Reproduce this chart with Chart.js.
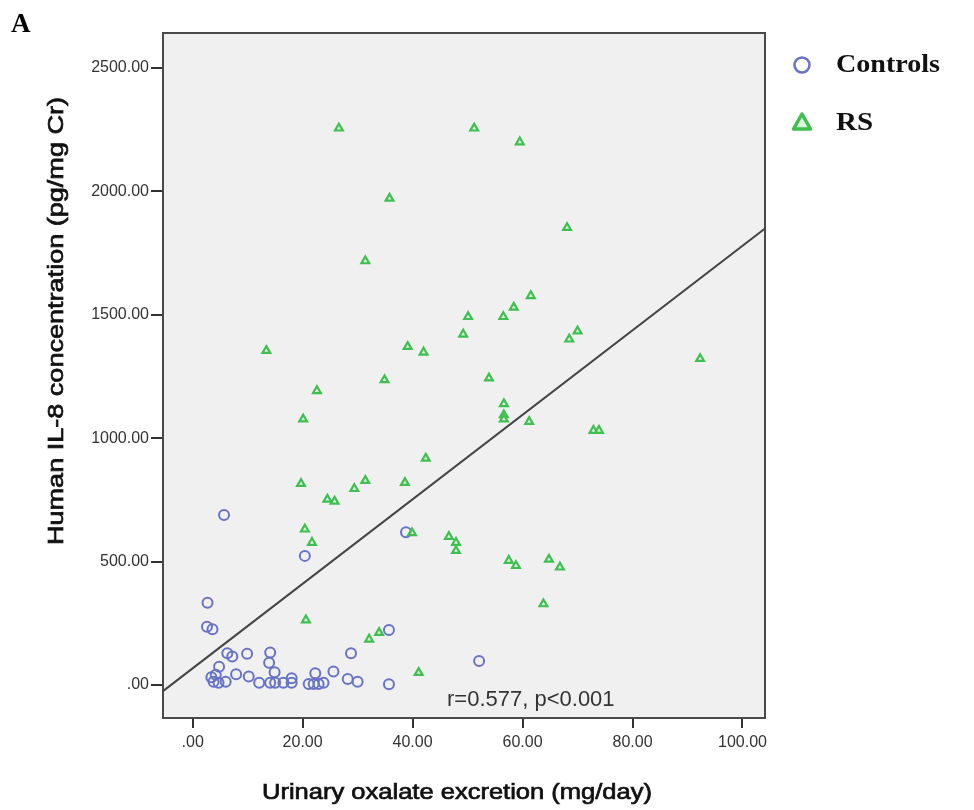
<!DOCTYPE html>
<html>
<head>
<meta charset="utf-8">
<script src="https://cdn.jsdelivr.net/npm/chart.js@4.4.1/dist/chart.umd.min.js"></script>
<style>
  html, body { margin: 0; padding: 0; background: #fff; }
  #wrap { width: 974px; height: 810px; }
</style>
</head>
<body>
<div id="wrap"><canvas id="chart" width="974" height="810"></canvas></div>
<script>
// urinary oxalate (mg/day) vs IL-8 (pg/mg Cr)
var controlsX = [2.7, 2.6, 3.6, 5.7, 20.4, 38.8, 52.1, 35.7, 35.7, 6.3, 7.2, 9.9, 14.1, 13.9, 14.9,
  4.8, 4.2, 3.4, 3.8, 4.7, 6.0, 7.9, 10.2, 12.1, 14.1, 15.0, 16.5, 18.0, 18.0, 21.1, 22.0, 22.9,
  23.8, 22.3, 25.6, 28.8, 28.2, 30.0];
var controlsY = [333, 236, 226, 689, 523, 619, 97, 223, 3, 128, 115, 126, 131, 90, 51,
  74, 41, 31, 13, 9, 13, 43, 34, 9, 9, 9, 9, 27, 9, 4, 4, 4,
  9, 47, 54, 128, 24, 13];

var rsX = [26.6, 51.2, 59.5, 35.8, 68.1, 31.4, 61.5, 58.4, 50.1, 56.5, 70.0, 68.5, 49.2, 39.1, 42.0,
  13.4, 92.3, 53.9, 34.9, 22.6, 56.6, 56.6, 56.6, 61.2, 20.1, 72.9, 73.9, 42.4, 19.7, 31.4,
  29.4, 38.6, 24.5, 25.8, 20.4, 21.7, 39.9, 46.6, 47.9, 47.9, 57.5, 58.8, 64.8, 66.8, 63.8,
  41.1, 20.6, 32.1, 33.9];
var rsY = [2256, 2256, 2200, 1972, 1853, 1718, 1577, 1530, 1492, 1492, 1434, 1401, 1421, 1371, 1348,
  1355, 1322, 1243, 1236, 1192, 1139, 1094, 1077, 1067, 1077, 1031, 1031, 918, 816, 828,
  795, 820, 752, 744, 631, 577, 616, 601, 577, 544, 504, 483, 509, 477, 328,
  50, 263, 185, 212];

// fit line: y = fitIntercept + fitSlope * x
var fitIntercept = 67.5;
var fitSlope = 17.12;

var xRange = [-5.4, 104.1];
var yRange = [-134, 2642];
var xTicks = [0, 20, 40, 60, 80, 100];
var yTicks = [0, 500, 1000, 1500, 2000, 2500];

var seriesNames = ['Controls', 'RS'];
var xTitle = 'Urinary oxalate excretion (mg/day)';
var yTitle = 'Human IL-8 concentration (pg/mg Cr)';
var statText = 'r=0.577, p<0.001';
var panelLetter = 'A';

var blue = '#6673c6';
var green = '#3fbf4f';

function toPoints(xs, ys) {
  return xs.map(function (x, i) { return {x: x, y: ys[i]}; });
}

function fmt(v) {
  var s = v.toFixed(2);
  return v === 0 ? s.slice(1) : s;
}

// draws text squeezed/stretched to a given width, a bit heavier than regular
function fitText(ctx, text, cx, cy, width, rot) {
  ctx.save();
  ctx.translate(cx, cy);
  if (rot) ctx.rotate(rot);
  var w = ctx.measureText(text).width;
  ctx.scale(width / w, 1);
  ctx.textAlign = 'center';
  ctx.textBaseline = 'middle';
  ctx.fillText(text, 0, 0);
  ctx.lineWidth = 0.7;
  ctx.strokeStyle = ctx.fillStyle;
  ctx.strokeText(text, 0, 0);
  ctx.restore();
}

var framePlugin = {
  id: 'frame',
  beforeDraw: function (chart) {
    var a = chart.chartArea, ctx = chart.ctx;
    ctx.save();
    ctx.fillStyle = '#f0f0f0';
    ctx.fillRect(a.left, a.top, a.right - a.left, a.bottom - a.top);
    ctx.restore();
  },
  afterDraw: function (chart) {
    var a = chart.chartArea, ctx = chart.ctx;
    ctx.save();
    ctx.strokeStyle = '#4a4a4a';
    ctx.lineWidth = 2;
    ctx.strokeRect(a.left, a.top, a.right - a.left, a.bottom - a.top);

    // axis titles
    ctx.fillStyle = '#111';
    ctx.font = '22px "Liberation Sans", Arial, sans-serif';
    fitText(ctx, xTitle, 457, 793, 390, 0);
    fitText(ctx, yTitle, 57, 321, 448, -Math.PI / 2);

    // correlation note
    ctx.fillStyle = '#333';
    ctx.font = '22px "Liberation Sans", Arial, sans-serif';
    ctx.textAlign = 'left';
    ctx.textBaseline = 'middle';
    ctx.fillText(statText, 447, 700);

    // panel letter
    ctx.fillStyle = '#000';
    ctx.font = 'bold 27px "Liberation Serif", "Times New Roman", serif';
    ctx.textBaseline = 'alphabetic';
    ctx.fillText(panelLetter, 11, 32);

    // legend
    ctx.lineWidth = 2.5;
    ctx.strokeStyle = blue;
    ctx.beginPath();
    ctx.arc(802, 65, 7.5, 0, Math.PI * 2);
    ctx.stroke();
    ctx.strokeStyle = green;
    ctx.fillStyle = 'rgba(200,240,205,0.6)';
    ctx.lineWidth = 3.5;
    ctx.lineJoin = 'round';
    ctx.beginPath();
    ctx.moveTo(802, 114);
    ctx.lineTo(810.5, 129);
    ctx.lineTo(793.5, 129);
    ctx.closePath();
    ctx.fill();
    ctx.stroke();

    ctx.fillStyle = '#111';
    ctx.font = 'bold 25px "Liberation Serif", "Times New Roman", serif';
    ctx.textAlign = 'left';
    [[seriesNames[0], 66, 104], [seriesNames[1], 124, 37]].forEach(function (r) {
      ctx.save();
      ctx.translate(836, r[1]);
      var w = ctx.measureText(r[0]).width;
      ctx.scale(r[2] / w, 1);
      ctx.textBaseline = 'middle';
      ctx.fillText(r[0], 0, 0);
      ctx.restore();
    });
    ctx.restore();
  }
};

var tickFont = {family: '"Liberation Sans", Arial, sans-serif', size: 16};

new Chart(document.getElementById('chart'), {
  type: 'scatter',
  data: {
    datasets: [
      {
        label: 'fit',
        type: 'line',
        data: [
          {x: xRange[0], y: fitIntercept + fitSlope * xRange[0]},
          {x: xRange[1], y: fitIntercept + fitSlope * xRange[1]}
        ],
        borderColor: '#444',
        borderWidth: 2,
        pointRadius: 0,
        fill: false,
        order: 3
      },
      {
        label: seriesNames[0],
        data: toPoints(controlsX, controlsY),
        pointStyle: 'circle',
        pointRadius: 5,
        borderWidth: 2,
        borderColor: blue,
        backgroundColor: 'rgba(0,0,0,0)',
        order: 2
      },
      {
        label: seriesNames[1],
        data: toPoints(rsX, rsY),
        pointStyle: 'triangle',
        pointRadius: 4.5,
        borderWidth: 2.2,
        borderColor: green,
        backgroundColor: 'rgba(200,240,205,0.6)',
        order: 1
      }
    ]
  },
  options: {
    responsive: false,
    animation: false,
    layout: {padding: {left: 0, top: 33, right: 209, bottom: 0}},
    plugins: {legend: {display: false}, tooltip: {enabled: false}},
    scales: {
      x: {
        type: 'linear',
        min: xRange[0],
        max: xRange[1],
        afterBuildTicks: function (s) { s.ticks = xTicks.map(function (v) { return {value: v}; }); },
        afterFit: function (s) { s.height = 92; },
        grid: {drawOnChartArea: false, tickLength: 10, color: '#333', lineWidth: 2},
        border: {display: false},
        ticks: {font: tickFont, color: '#333', padding: 5, maxRotation: 0,
          callback: function (v) { return fmt(v); }}
      },
      y: {
        type: 'linear',
        min: yRange[0],
        max: yRange[1],
        afterBuildTicks: function (s) { s.ticks = yTicks.map(function (v) { return {value: v}; }); },
        afterFit: function (s) { s.width = 163; },
        grid: {drawOnChartArea: false, tickLength: 12, color: '#333', lineWidth: 2},
        border: {display: false},
        ticks: {font: tickFont, color: '#333', padding: 2,
          callback: function (v) { return fmt(v); }}
      }
    }
  },
  plugins: [framePlugin]
});
</script>
</body>
</html>
